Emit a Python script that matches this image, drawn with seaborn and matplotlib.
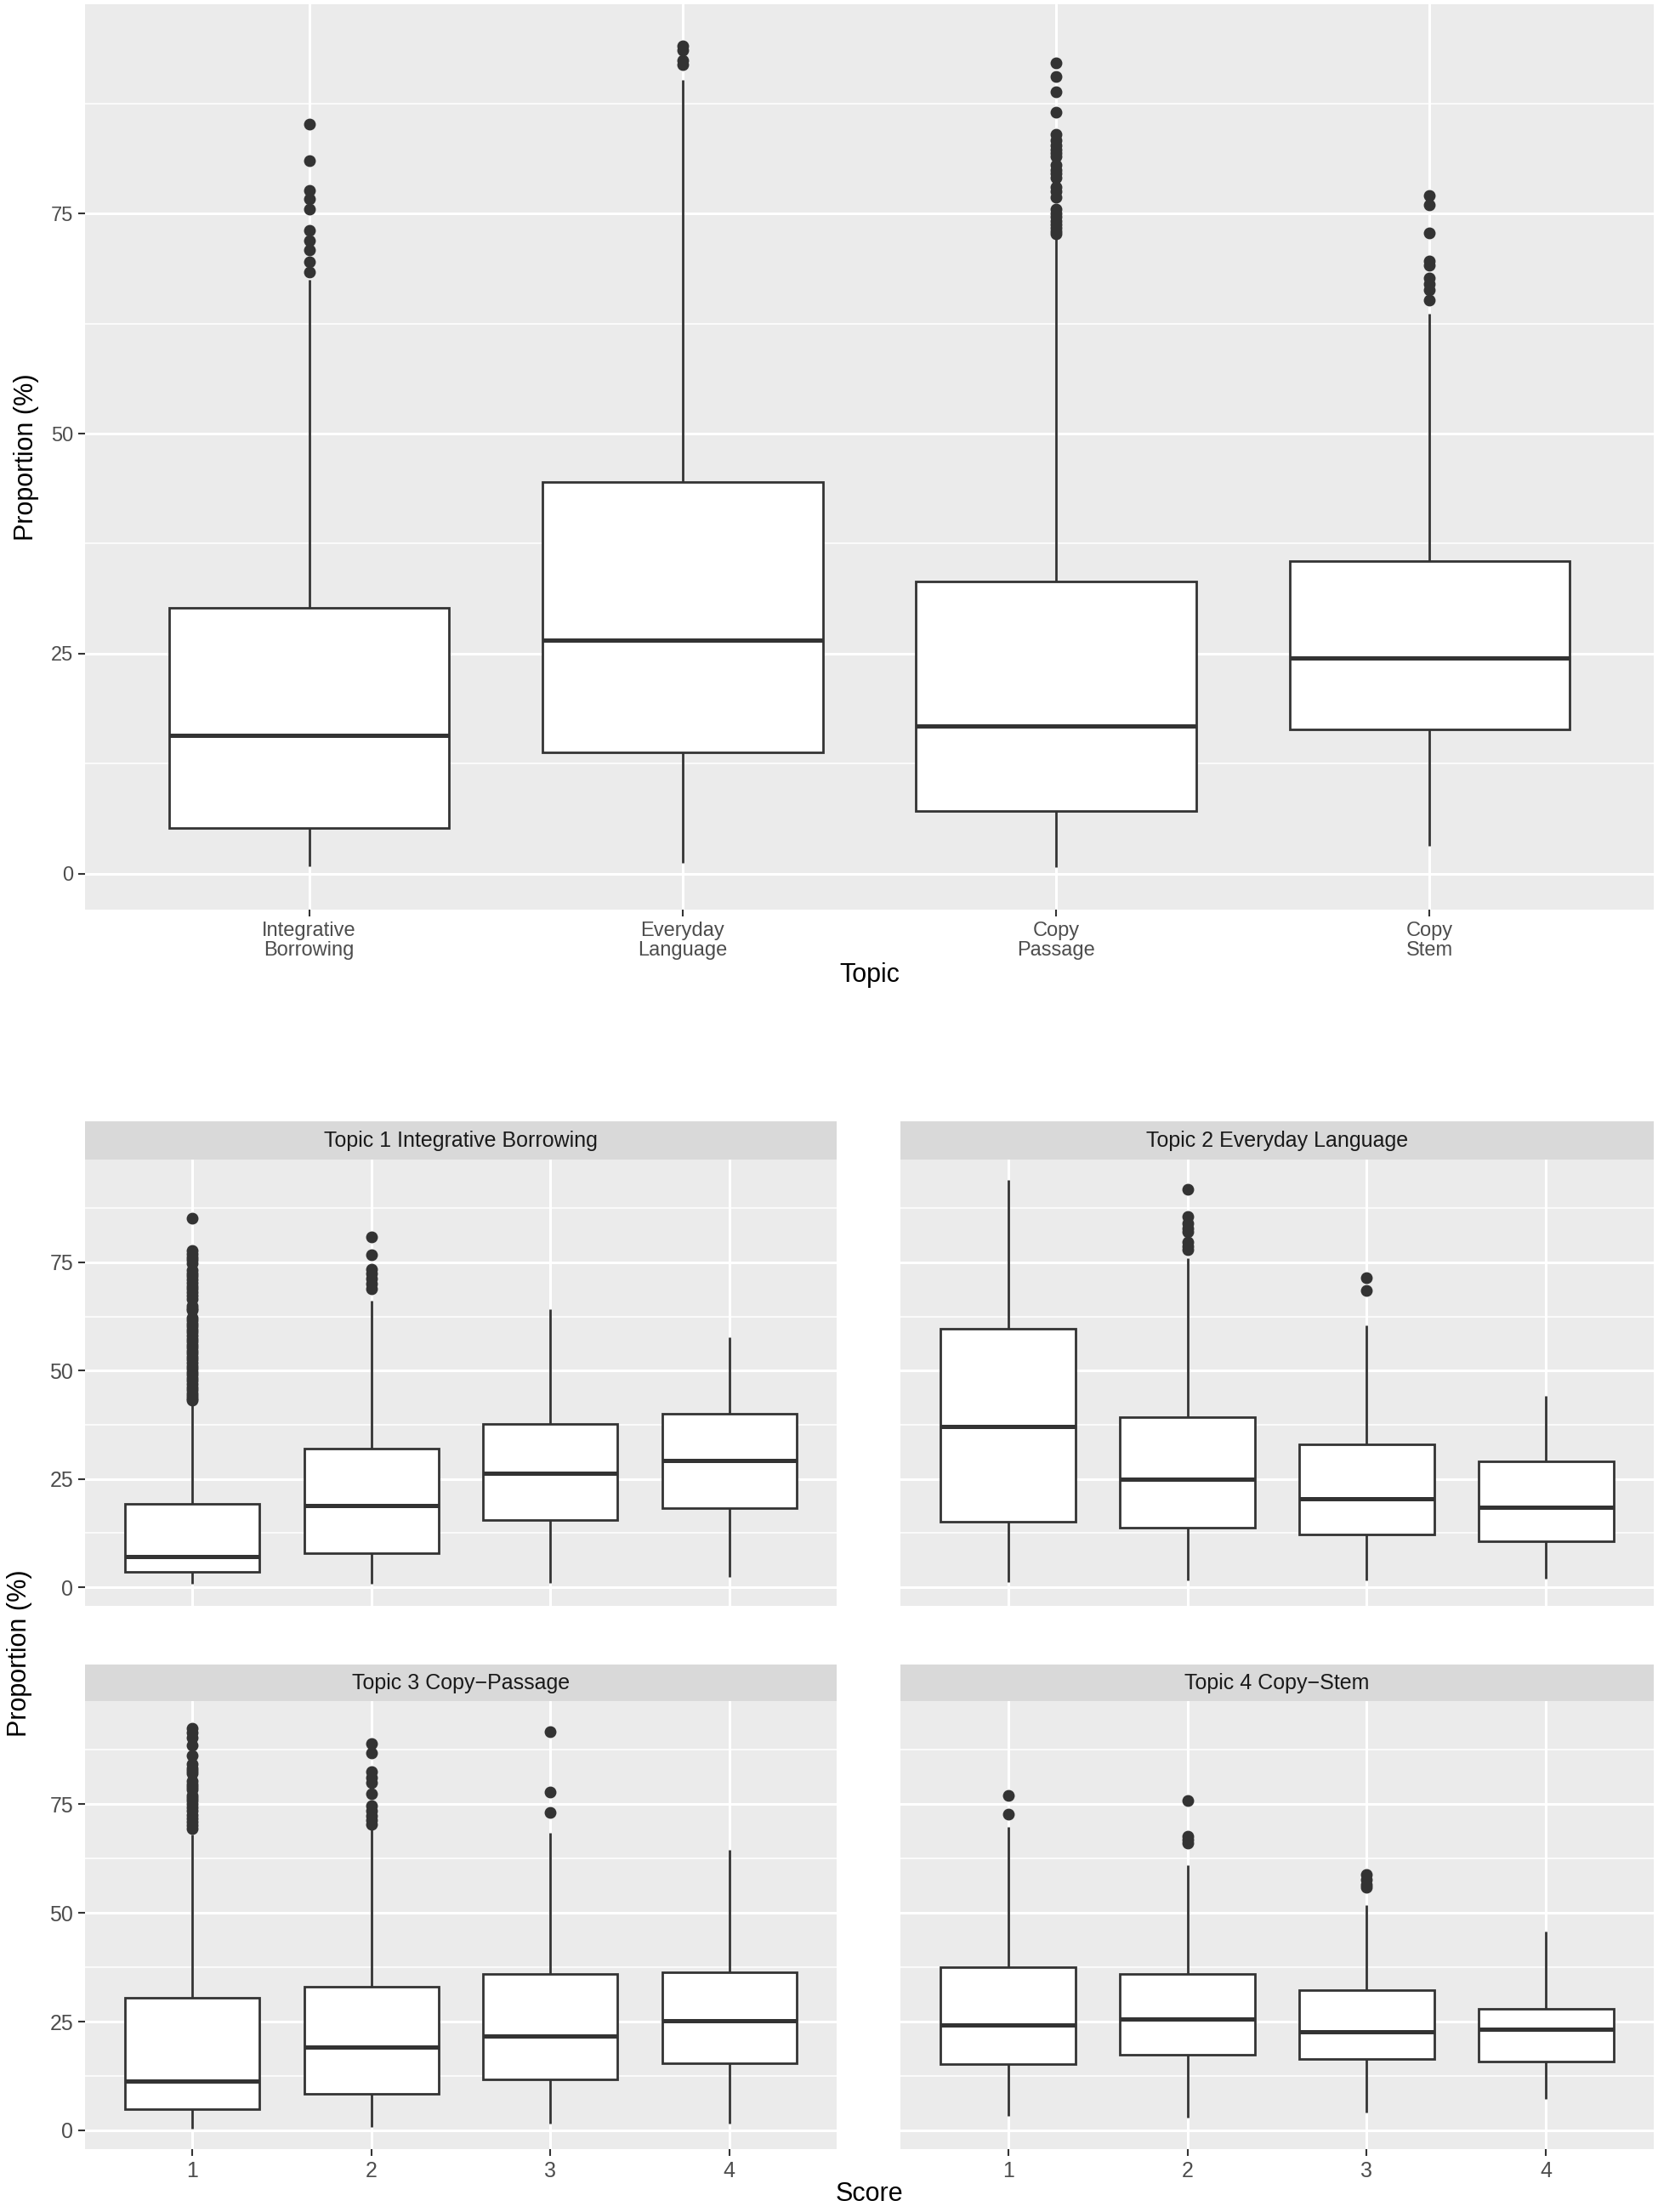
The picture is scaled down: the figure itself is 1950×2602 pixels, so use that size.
import numpy as np
import pandas as pd
import matplotlib
matplotlib.use("Agg")
import matplotlib.pyplot as plt
import seaborn as sns

# ---- top panel: proportion by topic (box summaries) ----
topics = ["Integrative\nBorrowing", "Everyday\nLanguage", "Copy\nPassage", "Copy\nStem"]
top_lo = [0.85, 1.2, 0.7, 3.1]
top_q1 = [5.2, 13.8, 7.1, 16.4]
top_med = [15.7, 26.5, 16.8, 24.5]
top_q3 = [30.2, 44.5, 33.2, 35.5]
top_hi = [67.5, 90.2, 72.2, 63.6]
top_out = [
    [85.2, 81.0, 77.6, 76.7, 75.5, 73.1, 71.9, 70.9, 69.5, 68.4],
    [94.1, 93.6, 92.4, 91.9],
    [92.1, 90.6, 88.8, 86.5, 84.0, 83.3, 82.8, 82.3, 81.9, 81.5, 80.5, 80.0,
     79.6, 79.1, 78.0, 77.5, 76.9, 75.5, 75.0, 74.6, 74.2, 73.8, 73.4, 73.0, 72.7],
    [77.1, 76.0, 72.8, 69.6, 69.1, 67.7, 67.0, 66.3, 65.2],
]

# ---- bottom facets: proportion by score within each topic ----
facet_titles = ["Topic 1 Integrative Borrowing", "Topic 2 Everyday Language",
                "Topic 3 Copy\u2212Passage", "Topic 4 Copy\u2212Stem"]
scores = ["1", "2", "3", "4"]
fac_lo = [[0.8, 0.8, 1.0, 2.4], [1.2, 1.5, 1.5, 1.9], [0.4, 0.8, 1.6, 1.6], [3.3, 2.9, 4.1, 7.3]]
fac_q1 = [[3.55, 7.9, 15.5, 18.2], [15.1, 13.7, 12.2, 10.6], [4.9, 8.4, 11.8, 15.4], [15.3, 17.3, 16.5, 15.8]]
fac_med = [[7.1, 18.9, 26.3, 29.2], [37.1, 25.0, 20.4, 18.5], [11.3, 19.1, 21.7, 25.2], [24.3, 25.6, 22.7, 23.2]]
fac_q3 = [[19.3, 32.0, 37.7, 40.1], [59.6, 39.3, 33.0, 29.1], [30.5, 33.1, 36.0, 36.4], [37.5, 35.9, 32.2, 27.9]]
fac_hi = [[42.8, 66.2, 64.1, 57.7], [94.0, 76.0, 60.4, 44.1], [68.0, 69.7, 68.4, 64.5], [69.7, 61.0, 51.8, 45.8]]
fac_out = [
    [[85.1, 77.8, 77.0, 76.2, 75.5, 74.7, 73.1, 72.4, 71.8, 71.0, 70.3, 69.5, 68.8,
      68.0, 67.3, 66.6, 65.0, 64.4, 63.9, 62.3, 61.6, 60.9, 60.2, 59.5, 58.8, 58.1,
      57.4, 56.7, 56.0, 55.3, 54.6, 53.9, 53.2, 52.5, 51.8, 51.1, 50.4, 49.7, 49.0,
      48.3, 47.6, 46.9, 46.2, 45.5, 44.8, 44.1, 43.5, 43.1],
     [80.9, 76.7, 73.3, 72.4, 71.2, 70.1, 68.9], [], []],
    [[], [91.8, 85.6, 83.9, 82.8, 82.0, 79.7, 78.6, 78.0], [71.4, 68.4], []],
    [[92.5, 91.5, 90.3, 88.6, 86.2, 84.2, 83.3, 82.6, 82.1, 80.4, 79.6, 78.9, 78.4,
      77.1, 76.4, 75.8, 75.0, 74.2, 73.4, 72.6, 71.7, 70.9, 70.1, 69.3],
     [88.9, 86.7, 82.4, 81.2, 80.0, 77.3, 74.6, 73.4, 72.4, 71.3, 70.3],
     [91.7, 77.7, 73.0], []],
    [[77.1, 72.7], [75.8, 67.6, 66.8, 66.0], [58.9, 57.7, 56.5, 55.9], []],
]


def sample(lo, q1, med, q3, hi, out, k=100):
    # a sample whose quartiles, whisker ends and outliers match the summary
    return [lo] + [q1] * k + [med] * k + [q3] * k + [hi] + list(out)


rows = []
for t, lab in enumerate(topics):
    for v in sample(top_lo[t], top_q1[t], top_med[t], top_q3[t], top_hi[t], top_out[t]):
        rows.append({"Topic": lab, "value": v})
df_top = pd.DataFrame(rows)

rows = []
for t, title in enumerate(facet_titles):
    for s, sc in enumerate(scores):
        vals = sample(fac_lo[t][s], fac_q1[t][s], fac_med[t][s], fac_q3[t][s],
                      fac_hi[t][s], fac_out[t][s])
        for v in vals:
            rows.append({"facet": title, "Score": sc, "value": v})
df_fac = pd.DataFrame(rows)

sns.set_theme(style="darkgrid", rc={"axes.facecolor": "#EBEBEB", "grid.color": "white",
                                    "axes.edgecolor": "#EBEBEB"})
plt.rcParams["font.family"] = ["Liberation Sans", "DejaVu Sans"]

W, H = 1950, 2602
fig = plt.figure(figsize=(W / 100, H / 100), dpi=100)


def box(px0, py0, px1, py1):
    return [px0 / W, 1 - py1 / H, (px1 - px0) / W, (py1 - py0) / H]


box_kw = dict(width=0.75, color="white", linecolor="#333333", linewidth=2.0,
              fliersize=9, saturation=1, showcaps=False,
              flierprops={"marker": "o", "markerfacecolor": "#333333",
                          "markeredgecolor": "#333333"},
              medianprops={"linewidth": 3.6})


def style_panel(ax, ylim, xlabels, ylabels, fs):
    ax.set_xlim(-0.6, 3.6)
    ax.set_ylim(*ylim)
    ax.set_axisbelow(True)
    ax.set_yticks([0, 25, 50, 75])
    ax.set_yticks([12.5, 37.5, 62.5, 87.5], minor=True)
    ax.grid(which="major", color="white", linewidth=2.2)
    ax.grid(which="minor", color="white", linewidth=1.1)
    ax.xaxis.grid(True, which="major", color="white", linewidth=2.2)
    ax.tick_params(axis="both", which="major", length=6, width=1.5, color="#333333",
                   labelcolor="#4D4D4D", labelsize=fs, pad=4,
                   bottom=True, left=True)
    ax.tick_params(axis="both", which="minor", length=0)
    if not xlabels:
        ax.tick_params(axis="x", bottom=False, labelbottom=False)
    if not ylabels:
        ax.tick_params(axis="y", left=False, labelleft=False)
    for sp in ax.spines.values():
        sp.set_visible(False)
    ax.set_xlabel("")
    ax.set_ylabel("")


# top panel
ax = fig.add_axes(box(100, 5, 1945, 1070))
sns.boxplot(data=df_top, x="Topic", y="value", order=topics, ax=ax, **box_kw)
style_panel(ax, (-4.1, 98.8), True, True, 17)
for lbl in ax.get_xticklabels():
    lbl.set_linespacing(1.05)
ax.set_xlabel("Topic", fontsize=22, color="black", labelpad=2)
ax.set_ylabel("Proportion (%)", fontsize=22, color="black", labelpad=10)

# facets
cols = [(100, 984), (1059, 1945)]
panel_rows = [(1319, 1364, 1889), (1958, 2001, 2528)]
for i, title in enumerate(facet_titles):
    r, c = divmod(i, 2)
    x0, x1 = cols[c]
    s0, s1, p1 = panel_rows[r]
    ax = fig.add_axes(box(x0, s1, x1, p1))
    sub = df_fac[df_fac["facet"] == title]
    sns.boxplot(data=sub, x="Score", y="value", order=scores, ax=ax, **box_kw)
    style_panel(ax, (-4.3, 98.7), r == 1, c == 0, 18)
    sax = fig.add_axes(box(x0, s0, x1, s1))
    sax.set_facecolor("#D9D9D9")
    sax.set_xticks([])
    sax.set_yticks([])
    for sp in sax.spines.values():
        sp.set_visible(False)
    sax.grid(False)
    sax.text(0.5, 0.5, title, ha="center", va="center", fontsize=18,
             color="#1A1A1A", transform=sax.transAxes)

fig.text(1022 / W, 1 - 2581 / H, "Score", ha="center", va="center",
         fontsize=22, color="black")
fig.text(23 / W, 1 - 1945 / H, "Proportion (%)", ha="center", va="center",
         rotation=90, fontsize=22, color="black")

fig.savefig("out.png", dpi=100)
